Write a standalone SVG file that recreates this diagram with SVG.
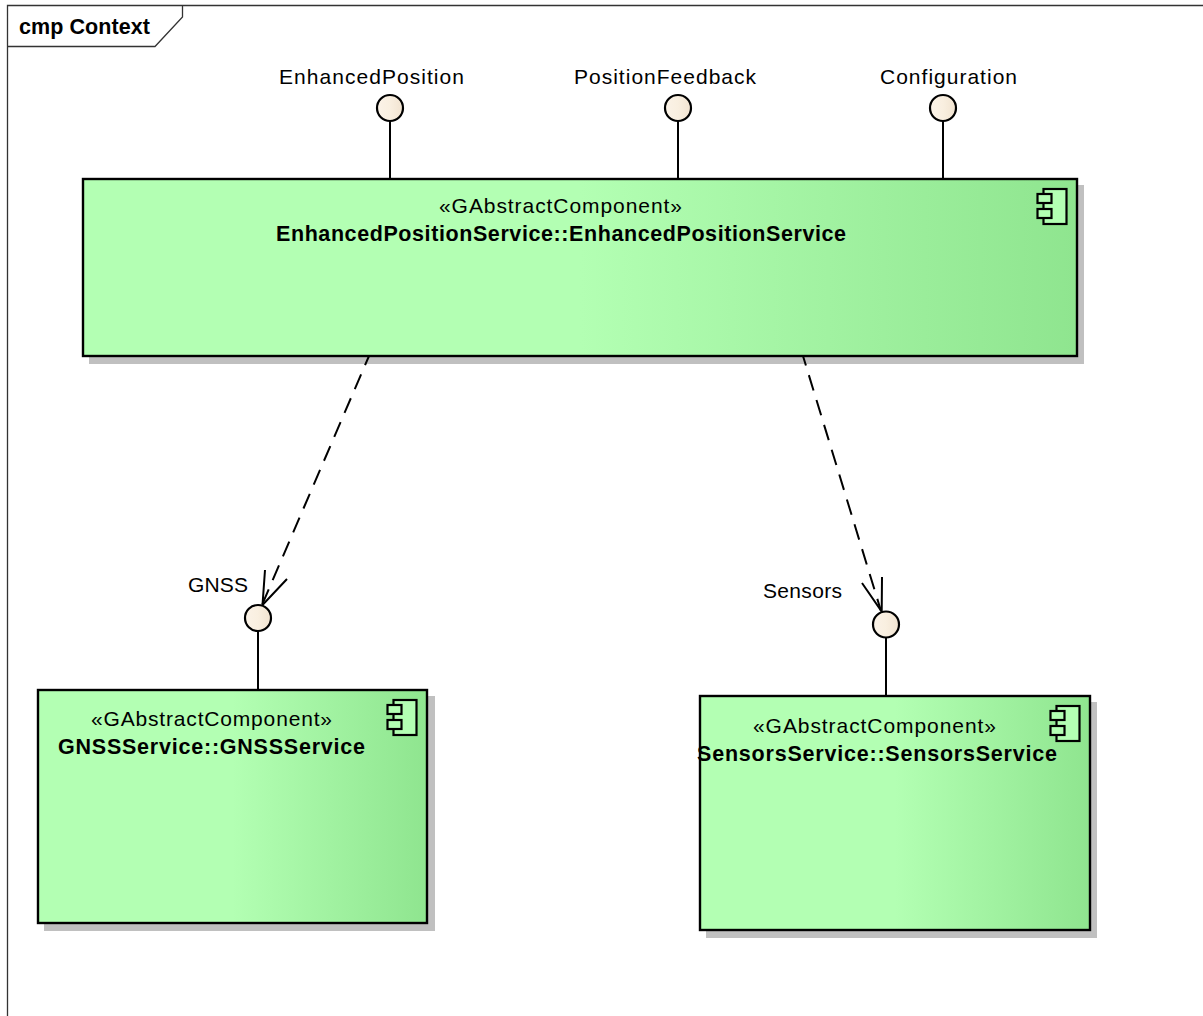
<svg xmlns="http://www.w3.org/2000/svg" width="1203" height="1016" viewBox="0 0 1203 1016">
<style>
text{font-family:"Liberation Sans",Arial,sans-serif;fill:#000}
.l{font-size:21px}
.b{font-size:21.500px;font-weight:bold}
.t{font-size:21.500px;font-weight:bold}
.box{stroke:#000;stroke-width:2.400;fill:url(#g)}
.sh{fill:#c0c0c0}
.ln{stroke:#000;stroke-width:2;fill:none}
.ci{stroke:#000;stroke-width:2.200;fill:url(#c)}
.ic{stroke:#000;stroke-width:2.200;fill:#b3ffb3}
.fr{stroke:#333;stroke-width:1.300;fill:none}
.da{stroke-dasharray:16 10;stroke-dashoffset:6}
</style>
<defs>
<linearGradient id="g" x1="0" y1="0" x2="1" y2="0"><stop offset="0" stop-color="#b3ffb3"/><stop offset="0.5" stop-color="#b3ffb3"/><stop offset="1" stop-color="#8fe58f"/></linearGradient>
<linearGradient id="c" x1="0" y1="0" x2="1" y2="0"><stop offset="0" stop-color="#fbf3e8"/><stop offset="0.5" stop-color="#f9efe0"/><stop offset="1" stop-color="#f1e3d0"/></linearGradient>
<g id="icon"><rect class="ic" x="-33.500" y="10" width="23" height="35"/><rect class="ic" x="-39.500" y="15" width="14" height="9"/><rect class="ic" x="-39.500" y="30" width="14" height="9"/></g>
</defs>
<rect width="1203" height="1016" fill="#fff"/>
<g id="frame">
<path class="fr" d="M7.500 1016V5.500H1203M7.500 46.500H155L182.500 17V5.500"/>
<text class="t" x="19" y="33.500" textLength="131">cmp Context</text>
</g>
<g id="EnhancedPositionService">
<rect class="sh" x="89" y="185" width="995" height="179"/>
<rect class="box" x="83" y="179" width="994" height="177"/>
<use href="#icon" x="1077" y="179"/>
<text class="l" x="439" y="213" textLength="243">«GAbstractComponent»</text>
<text class="b" x="276" y="241" textLength="570">EnhancedPositionService::EnhancedPositionService</text>
</g>
<g id="GNSSService">
<rect class="sh" x="44" y="696" width="391" height="235"/>
<rect class="box" x="38" y="690" width="389" height="233"/>
<use href="#icon" x="427" y="690"/>
<text class="l" x="91" y="726" textLength="241">«GAbstractComponent»</text>
<text class="b" x="58" y="754" textLength="307">GNSSService::GNSSService</text>
</g>
<g id="SensorsService">
<rect class="sh" x="706" y="702" width="391" height="236"/>
<rect class="box" x="700" y="696" width="390" height="234"/>
<use href="#icon" x="1090" y="696"/>
<text class="l" x="753" y="733" textLength="243">«GAbstractComponent»</text>
<text class="b" x="697" y="761" textLength="360">SensorsService::SensorsService</text>
</g>
<g id="connectors">
<path class="ln" d="M390 121V179M678 121V179M943 121V179M258 631V690M886 637V696"/>
<path class="ln da" d="M369 356L262 605M803 356L881 611"/>
<path class="ln" d="M265 570L262.500 605L287 579M882 577L881.700 611.500L862 583"/>
</g>
<g id="EnhancedPosition"><circle class="ci" cx="390" cy="108" r="13"/><text class="l" x="279" y="84" textLength="185">EnhancedPosition</text></g>
<g id="PositionFeedback"><circle class="ci" cx="678" cy="108" r="13"/><text class="l" x="574" y="84" textLength="182">PositionFeedback</text></g>
<g id="Configuration"><circle class="ci" cx="943" cy="108" r="13"/><text class="l" x="880" y="84" textLength="137">Configuration</text></g>
<g id="GNSS"><circle class="ci" cx="258" cy="618" r="13"/><text class="l" x="188" y="592" textLength="60">GNSS</text></g>
<g id="Sensors"><circle class="ci" cx="886" cy="624.500" r="13"/><text class="l" x="763" y="598" textLength="79">Sensors</text></g>
</svg>
